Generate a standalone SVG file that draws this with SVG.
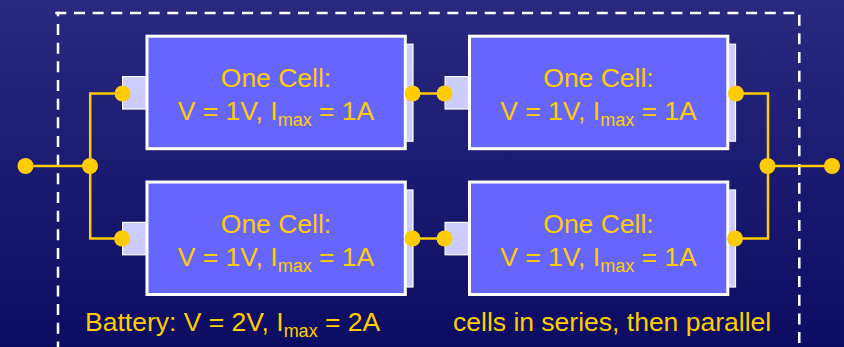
<svg xmlns="http://www.w3.org/2000/svg" width="844" height="347" viewBox="0 0 844 347">
<style>
.body{fill:#6666ff;stroke:#fff;stroke-width:3}
.tab{fill:#ccccff;stroke:#fff;stroke-width:1.2}
.wire{fill:none;stroke:#ffcc00;stroke-width:2.5}
.dot{fill:#ffcc00}
.dash{fill:none;stroke:#fff;stroke-width:2.5;stroke-dasharray:11 7.67}
text{font-family:"Liberation Sans",Arial,sans-serif;font-size:26.5px;fill:#ffcc00}
.c{text-anchor:middle}
.s{font-size:18px}
</style>
<defs>
<linearGradient id="bg" x1="0" y1="0" x2="0" y2="1"><stop offset="0" stop-color="#29297f"/><stop offset="1" stop-color="#0c0c62"/></linearGradient>
<g id="cell">
<rect class="tab" x="-24.400" y="40.400" width="26" height="32.400"/>
<rect class="tab" x="255" y="8" width="11" height="97"/>
<rect class="body" x="0" y="0" width="258.300" height="112.500"/>
<text class="c" x="129" y="51">One Cell:</text>
<text class="c" x="129" y="84">V = 1V, I<tspan class="s" dy="6">max</tspan><tspan dy="-6"> = 1A</tspan></text>
</g>
</defs>
<rect width="844" height="347" fill="url(#bg)"/>
<g id="battery">
<path class="dash" d="M55.300 13H794.300"/>
<path class="dash" d="M58 11.750V347" stroke-dashoffset="6.420"/>
<path class="dash" d="M799.300 14.670V347"/>
</g>
<g id="cell1"><use href="#cell" x="147" y="36.200"/></g>
<g id="cell2"><use href="#cell" x="469.500" y="36.200"/></g>
<g id="cell3"><use href="#cell" x="147" y="182"/></g>
<g id="cell4"><use href="#cell" x="469.500" y="182"/></g>
<g id="connectors">
<path class="wire" d="M25.500 166H90M122.500 93.500H90.200V238.500H122.500"/>
<path class="wire" d="M412.500 93.500H444.500M412.500 238.500H444.500"/>
<path class="wire" d="M736 93.500H768V238.500H735M768 166H832"/>
<circle class="dot" cx="25.500" cy="166" r="8"/>
<circle class="dot" cx="90" cy="166" r="8"/>
<circle class="dot" cx="122.500" cy="93.500" r="8"/>
<circle class="dot" cx="122" cy="238.500" r="8"/>
<circle class="dot" cx="412.500" cy="93.500" r="8"/>
<circle class="dot" cx="444.500" cy="93.500" r="8"/>
<circle class="dot" cx="412.500" cy="238.500" r="8"/>
<circle class="dot" cx="444.500" cy="238.500" r="8"/>
<circle class="dot" cx="736" cy="93.500" r="8"/>
<circle class="dot" cx="735" cy="238.500" r="8"/>
<circle class="dot" cx="767.500" cy="166" r="8"/>
<circle class="dot" cx="832" cy="166" r="8"/>
</g>
<g id="labels">
<text x="85" y="331">Battery: V = 2V, I<tspan class="s" dy="6">max</tspan><tspan dy="-6"> = 2A</tspan></text>
<text x="453" y="331">cells in series, then parallel</text>
</g>
</svg>
